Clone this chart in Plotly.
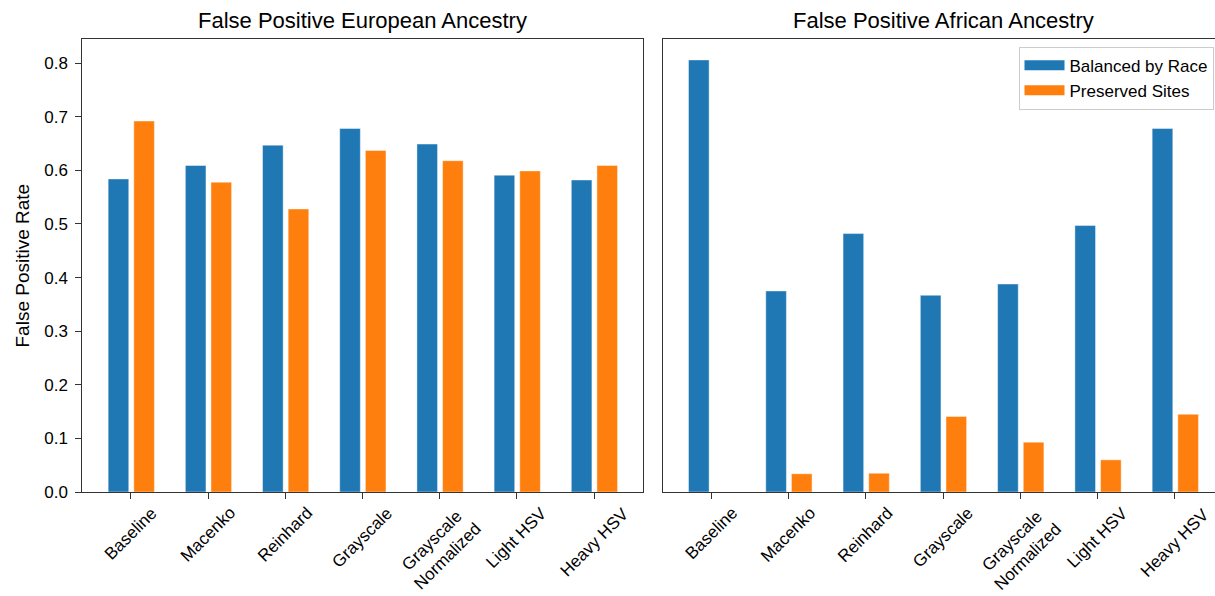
import plotly.graph_objects as go

# Augmentation methods on the x axis
methods = ["Baseline", "Macenko", "Reinhard", "Grayscale",
           "Grayscale<br>Normalized", "Light HSV", "Heavy HSV"]

# False positive rates, European ancestry
eur_balanced = [0.584, 0.609, 0.647, 0.678, 0.649, 0.591, 0.582]
eur_preserved = [0.692, 0.578, 0.528, 0.637, 0.618, 0.599, 0.609]

# False positive rates, African ancestry
afr_balanced = [0.806, 0.375, 0.482, 0.367, 0.388, 0.497, 0.678]
afr_preserved = [0.0, 0.034, 0.035, 0.141, 0.093, 0.060, 0.145]

series_names = ["Balanced by Race", "Preserved Sites"]
colors = ["#1f77b4", "#ff7f0e"]
y_ticks = [0.0, 0.1, 0.2, 0.3, 0.4, 0.5, 0.6, 0.7, 0.8]

W, H = 1215, 596
FONT = "Liberation Sans, Arial, Helvetica, sans-serif"
LINE = "#333333"

bar_w = 0.267
offsets = [-0.295, 0.037]
xpos = list(range(len(methods)))

fig = go.Figure()
panels = [("x", "y", eur_balanced, eur_preserved),
          ("x2", "y2", afr_balanced, afr_preserved)]
for xa, ya, bal, pres in panels:
    for i, vals in enumerate([bal, pres]):
        fig.add_trace(go.Bar(
            x=xpos, y=vals, xaxis=xa, yaxis=ya,
            name=series_names[i], showlegend=False, legendgroup=series_names[i],
            width=bar_w, offset=offsets[i],
            marker=dict(color=colors[i],
                        line=dict(color="rgba(255,255,255,0.55)", width=0.8)),
        ))

# Legend keys drawn as wide colour patches (thick line swatches)
for i, name in enumerate(series_names):
    fig.add_trace(go.Scatter(
        x=[None], y=[None], xaxis="x2", yaxis="y2", mode="lines",
        name=name, legendgroup=name, showlegend=True,
        line=dict(color=colors[i], width=12),
    ))

y_range = [0, 0.845]
common_x = dict(range=[-0.63, 6.63], showline=True, linecolor=LINE, linewidth=1,
                mirror=True, ticks="outside", ticklen=6, tickcolor=LINE,
                tickvals=xpos, showticklabels=False, showgrid=False, zeroline=False)

fig.update_layout(
    width=W, height=H,
    margin=dict(l=0, r=0, t=39, b=104),
    paper_bgcolor="white", plot_bgcolor="white",
    font=dict(family=FONT, size=17, color="black"),
    barmode="overlay",
    xaxis=dict(common_x, domain=[82.3 / W, 642.7 / W]),
    xaxis2=dict(common_x, domain=[662.6 / W, 1.0], range=[-0.63, 6.518], anchor="y2"),
    yaxis=dict(range=y_range, domain=[0, 1], showline=True, linecolor=LINE,
               linewidth=1, mirror=True, ticks="outside", ticklen=6, tickcolor=LINE,
               tickvals=y_ticks, tickformat=".1f", showgrid=False, zeroline=False,
               ticklabelstandoff=4, tickfont=dict(size=17)),
    yaxis2=dict(range=y_range, domain=[0, 1], anchor="x2", matches="y",
                showline=True, linecolor=LINE, linewidth=1, mirror=False,
                ticks="", showticklabels=False, showgrid=False, zeroline=False),
    legend=dict(x=1213.5 / W, xanchor="right", y=0.983, yanchor="top",
                bgcolor="white", bordercolor="#cccccc", borderwidth=1,
                font=dict(size=17), tracegroupgap=0, itemwidth=40),
)

# Rotated category labels under each panel
for xa in ["x", "x2"]:
    for i, m in enumerate(methods):
        fig.add_annotation(x=i, y=0, xref=xa, yref="paper", text=m,
                           textangle=-45, showarrow=False, xanchor="center",
                           yanchor="top", yshift=-9, font=dict(size=17))

# Panel titles
fig.add_annotation(x=362.5 / W, y=1 + 19 / 453, xref="paper", yref="paper",
                   text="False Positive European Ancestry", showarrow=False,
                   xanchor="center", yanchor="middle", font=dict(size=22))
fig.add_annotation(x=943.0 / W, y=1 + 19 / 453, xref="paper", yref="paper",
                   text="False Positive African Ancestry", showarrow=False,
                   xanchor="center", yanchor="middle", font=dict(size=22))

# Shared y-axis label
fig.add_annotation(x=22 / W, y=0.5, xref="paper", yref="paper",
                   text="False Positive Rate", textangle=-90, showarrow=False,
                   xanchor="center", yanchor="middle", font=dict(size=19))

fig.write_html("out.html")
